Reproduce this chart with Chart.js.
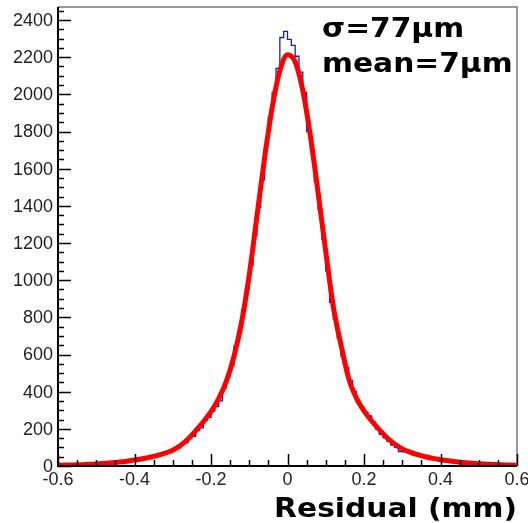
<!DOCTYPE html>
<html>
<head>
<meta charset="utf-8">
<script src="https://cdn.jsdelivr.net/npm/chart.js@4.4.1/dist/chart.umd.min.js"></script>
<style>
  html, body { margin: 0; padding: 0; background: #fff; }
  canvas { display: block; }
</style>
</head>
<body>
<canvas id="c" width="528" height="523"></canvas>
<script>
// histogram binning
const xMin = -0.6, xMax = 0.6, binWidth = 0.01
const yMin = 0, yMax = 2470

const xTickLabels = [-0.6, -0.4, -0.2, 0, 0.2, 0.4, 0.6]
const yTickLabels = [0, 200, 400, 600, 800, 1000, 1200, 1400, 1600, 1800, 2000, 2200, 2400]

// entries per bin, from -0.6 to 0.6
const counts = [
  3, 6, 4, 7, 5, 8, 6, 9, 8, 11, 10, 14, 13, 17, 16, 21, 20, 26, 27, 33, 31, 40, 39, 47, 46, 57, 55, 68, 70, 84,
  92, 98, 115, 124, 150, 160, 190, 205, 245, 262,
  295, 320, 350, 420, 480, 540, 645, 715, 840, 950,
  1080, 1240, 1390, 1540, 1730, 1880, 2010, 2140, 2306, 2339,
  2296, 2263, 2205, 2120, 2010, 1800, 1700, 1530, 1380, 1220,
  1050, 880, 790, 690, 590, 530, 460, 400, 345, 312,
  290, 270, 236, 198, 170, 152, 132, 112, 100, 78,
  76, 74, 70, 62, 60, 50, 49, 41, 42, 35, 34, 28, 29, 22, 23, 18, 19, 15, 15, 12, 13, 9, 10, 7, 9, 6, 7, 5, 6, 4
]

// fit curve
const fitX = [
  -0.60, -0.58, -0.56, -0.54, -0.52, -0.50, -0.48, -0.46, -0.44, -0.42,
  -0.40, -0.38, -0.36, -0.34, -0.32, -0.30, -0.28, -0.26, -0.24, -0.22,
  -0.20, -0.18, -0.16, -0.14, -0.12, -0.10, -0.08, -0.06, -0.04, -0.02,
  0.00, 0.02, 0.04, 0.06, 0.08, 0.10, 0.12, 0.14, 0.16, 0.18,
  0.20, 0.22, 0.24, 0.26, 0.28, 0.30, 0.32, 0.34, 0.36, 0.38,
  0.40, 0.42, 0.44, 0.46, 0.48, 0.50, 0.52, 0.54, 0.56, 0.58, 0.60
]
const fitY = [
  4, 5, 6, 7, 9, 11, 14, 17, 21, 26,
  32, 39, 47, 57, 69, 85, 110, 145, 190, 238,
  292, 362, 455, 590, 775, 1029, 1343, 1657, 1931, 2127,
  2213, 2175, 2020, 1774, 1470, 1153, 854, 650, 470, 365,
  297, 242, 196, 152, 118, 92, 75, 61, 50, 41,
  34, 28, 23, 19, 15, 12, 10, 8, 7, 5, 4
]

const fitText = ['σ=77μm', 'mean=7μm']
const axisTitle = 'Residual (mm)'

// histogram as steps: one point per left bin edge, plus closing edge
const histPoints = counts.map((c, i) => ({ x: xMin + i * binWidth, y: c }))
histPoints.push({ x: xMax, y: counts[counts.length - 1] })

const fitPoints = fitX.map((x, i) => ({ x: x, y: fitY[i] }))

// ROOT-like frame, inward ticks, labels and texts
const rootFrame = {
  id: 'rootFrame',
  afterDraw(chart) {
    const ctx = chart.ctx
    const a = chart.chartArea
    const xs = chart.scales.x, ys = chart.scales.y
    ctx.save()

    // frame
    ctx.strokeStyle = '#777'
    ctx.lineWidth = 1.5
    ctx.beginPath()
    ctx.moveTo(a.left, a.top); ctx.lineTo(a.right, a.top); ctx.lineTo(a.right, a.bottom)
    ctx.stroke()
    ctx.strokeStyle = '#000'
    ctx.lineWidth = 2
    ctx.beginPath()
    ctx.moveTo(a.left, a.top); ctx.lineTo(a.left, a.bottom); ctx.lineTo(a.right, a.bottom)
    ctx.stroke()

    // ticks
    ctx.lineWidth = 1.5
    ctx.beginPath()
    for (let v = yMin; v <= 2450; v += 50) {
      const y = Math.round(ys.getPixelForValue(v)) + 0.5
      const len = (v % 200 === 0) ? 13 : 6
      ctx.moveTo(a.left, y)
      ctx.lineTo(a.left + len, y)
    }
    for (let k = -12; k <= 12; k++) {
      const x = Math.round(xs.getPixelForValue(k * 0.05)) + 0.5
      const len = (k % 4 === 0) ? 12 : 6
      ctx.moveTo(x, a.bottom)
      ctx.lineTo(x, a.bottom - len)
    }
    ctx.stroke()

    // tick labels
    ctx.fillStyle = '#222'
    ctx.font = '18px "Liberation Sans", Arial, sans-serif'
    ctx.textAlign = 'right'
    ctx.textBaseline = 'middle'
    yTickLabels.forEach(v => {
      ctx.fillText(String(v), a.left - 5, ys.getPixelForValue(v) + 1)
    })
    ctx.textAlign = 'center'
    ctx.textBaseline = 'top'
    xTickLabels.forEach(v => {
      const t = v === 0 ? '0' : v.toFixed(1)
      ctx.fillText(t, xs.getPixelForValue(v), a.bottom + 5)
    })

    // fit result and axis title
    ctx.fillStyle = '#000'
    ctx.font = 'bold 27px "DejaVu Sans"'
    ctx.textBaseline = 'alphabetic'
    ctx.textAlign = 'left'
    ctx.save(); ctx.translate(322, 37); ctx.scale(1.1, 1); ctx.fillText(fitText[0], 0, 0); ctx.restore()
    ctx.save(); ctx.translate(322, 72); ctx.scale(1.1, 1); ctx.fillText(fitText[1], 0, 0); ctx.restore()
    ctx.textAlign = 'right'
    ctx.save(); ctx.translate(517, 517); ctx.scale(1.1, 1); ctx.fillText(axisTitle, 0, 0); ctx.restore()

    ctx.restore()
  }
}

new Chart(document.getElementById('c'), {
  type: 'line',
  data: {
    datasets: [
      {
        label: 'fit',
        data: fitPoints,
        borderColor: '#ff0000',
        borderWidth: 5,
        pointRadius: 0,
        fill: false,
        cubicInterpolationMode: 'monotone',
        order: 0
      },
      {
        label: 'hist',
        data: histPoints,
        borderColor: '#1c1ca8',
        borderWidth: 1.3,
        pointRadius: 0,
        fill: false,
        // horizontal at the bin value first, then the vertical edge
        stepped: 'before',
        order: 1
      }
    ]
  },
  options: {
    responsive: false,
    animation: false,
    events: [],
    layout: { padding: { top: 7, right: 11, left: 58, bottom: 57 } },
    plugins: { legend: { display: false }, tooltip: { enabled: false } },
    scales: {
      x: { type: 'linear', min: xMin, max: xMax, display: false },
      y: { type: 'linear', min: yMin, max: yMax, display: false }
    }
  },
  plugins: [rootFrame]
})
</script>
</body>
</html>
